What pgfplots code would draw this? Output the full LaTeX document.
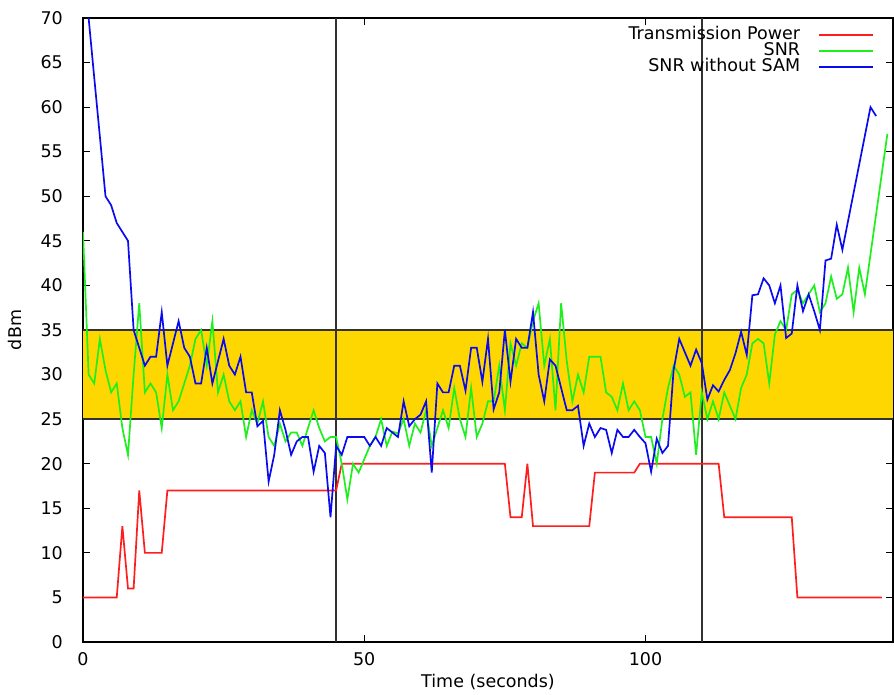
\documentclass[border=0pt]{standalone}
\usepackage{fontspec}
\setmainfont{DejaVu Sans}
\usepackage{pgfplots}
\pgfplotsset{compat=1.18}
\usetikzlibrary{calc}
\definecolor{band}{RGB}{255,215,0}
\definecolor{tpred}{RGB}{255,30,30}
\definecolor{snrgreen}{RGB}{30,240,30}
\definecolor{snrblue}{RGB}{10,10,240}
\definecolor{rulegray}{RGB}{50,50,50}
\pgfplotsset{my legend line/.style={legend image code/.code={\draw[#1] (0pt,0pt) -- (54pt,0pt);}}}

\begin{document}
\begin{tikzpicture}
\begin{axis}[
  scale only axis, width=810pt, height=624pt,
  xmin=0, xmax=144, ymin=0, ymax=70,
  xtick={0,50,100}, ytick={0,5,...,70},
  tick align=inside, major tick length=7pt,
  tick style={black, line width=1pt},
  axis line style={black, line width=2pt},
  /pgf/number format/assume math mode=true,
  tick label style={font=\fontsize{17.5}{20}\selectfont, inner sep=0pt},
  yticklabel style={xshift=-20pt},
  xticklabel style={yshift=-10pt},
  xlabel={Time (seconds)}, ylabel={dBm},
  label style={font=\fontsize{17.5}{20}\selectfont},
  xlabel style={at={(axis description cs:0.5,0)}, anchor=north, yshift=-32pt, inner sep=0pt},
  ylabel style={at={(axis description cs:-0.0838,0.5)}, anchor=center},
  legend style={at={(rel axis cs:1,1)}, anchor=north east, xshift=-16pt, yshift=-7pt,
    draw=none, fill=none, font=\fontsize{17.5}{20}\selectfont, row sep=0pt, column sep=18pt,
    nodes={inner sep=0pt, text height=12pt, text depth=4pt}},
  legend cell align=right, legend plot pos=right,
  my legend line,
]
\coordinate (sw) at (rel axis cs:0,0);
\coordinate (ne) at (rel axis cs:1,1);
% band
\addplot[draw=none, fill=band, forget plot] coordinates {(0,25) (144,25) (144,35) (0,35)} -- cycle;
\addplot[rulegray, line width=1.7pt, forget plot] coordinates {(0,25) (144,25)};
\addplot[rulegray, line width=1.7pt, forget plot] coordinates {(0,35) (144,35)};
\addplot[rulegray, line width=1.5pt, forget plot] coordinates {(45,0) (45,70)};
\addplot[rulegray, line width=1.5pt, forget plot] coordinates {(110,0) (110,70)};

% Transmission Power
\addplot[tpred, line width=1.7pt] table {
x y
0 5
1 5
2 5
3 5
4 5
5 5
6 5
7 13
8 6
9 6
10 17
11 10
12 10
13 10
14 10
15 17
45 17
46 20
75 20
76 14
77 14
78 14
79 20
80 13
90 13
91 19
98 19
99 20
113 20
114 14
126 14
127 5
142 5
};
\addlegendentry{Transmission Power}

% SNR
\addplot[snrgreen, line width=1.7pt] table {
x y
0 46
1 30
2 29
3 34
4 30.5
5 28
6 29
7 24
8 21
9 30
10 38
11 28
12 29
13 28
14 24
15 30
16 26
17 27
18 29
19 31
20 34
21 35
22 31
23 36
24 28
25 30
26 27
27 26
28 27
29 23
30 26
31 24.5
32 27
33 23
34 22
35 24.5
36 22.5
37 23.5
38 23.5
39 22
40 24
41 26
42 24
43 22.5
44 23
45 23
46 20
47 16
48 20
49 19
50 20.5
51 22
52 23
53 25
54 22
55 23.6
56 23.4
57 25
58 22
59 24.5
60 23.5
61 26
62 22
63 24
64 26
65 24
66 28.5
67 25
68 23
69 28.5
70 23
71 24.5
72 27
73 27
74 31
75 26
76 33.5
77 31
78 33.5
79 33
80 36
81 38
82 31
83 34
84 26
85 38
86 31.5
87 27
88 30
89 28
90 32
91 32
92 32
93 28
94 27.5
95 26
96 29
97 26
98 27
99 26
100 23
101 23
102 20
103 25
104 28.5
105 31
106 30
107 27.5
108 28
109 21
110 28
111 25
112 27
113 25
114 28
115 26.5
116 25
117 28.5
118 30
119 33.5
120 34
121 33.5
122 29
123 34.5
124 36
125 35
126 39
127 39.5
128 38
129 39
130 40
131 37
132 38
133 41
134 38.5
135 39
136 42
137 37
138 42
139 39
140 43.5
141 48
142 52.5
143 57
};
\addlegendentry{SNR}

% SNR without SAM
\addplot[snrblue, line width=1.7pt] table {
x y
1 70
2 63.3
3 56.7
4 50
5 49
6 47
7 46
8 45
9 35
10 33
11 31
12 32
13 32
14 37
15 31
16 33.5
17 36
18 33
19 32
20 29
21 29
22 33
23 29
24 31.5
25 34
26 31
27 30
28 32
29 28
30 28
31 24.2
32 24.8
33 18
34 21
35 26
36 23.8
37 21
38 22.5
39 23
40 23
41 19.1
42 22
43 21.2
44 14
45 22
46 21
47 23
48 23
49 23
50 23
51 22
52 23
53 22
54 24
55 23.5
56 23
57 27
58 24.2
59 25
60 25.5
61 27
62 19
63 29
64 28
65 28
66 31
67 31
68 28.2
69 33
70 33
71 29.2
72 34
73 26.1
74 28
75 35
76 29.2
77 34
78 33
79 33
80 37
81 30
82 27
83 31.7
84 31
85 28.5
86 26
87 26
88 26.5
89 22
90 24.5
91 23
92 24
93 23.8
94 21.2
95 23.8
96 23
97 23
98 23.8
99 23
100 22.3
101 19.1
102 22.8
103 21.2
104 22
105 30.5
106 34
107 32.5
108 31
109 32.8
110 31.3
111 27.2
112 28.8
113 28.1
114 29.4
115 30.5
116 32.4
117 34.8
118 32.2
119 38.9
120 39
121 40.8
122 40
123 38
124 40
125 34.1
126 34.6
127 40
128 37.1
129 39
130 37.1
131 35
132 42.8
133 43
134 46.8
135 44
136 47.2
137 50.4
138 53.6
139 56.8
140 60
141 59
};
\addlegendentry{SNR without SAM}
\end{axis}
\pgfresetboundingbox
\path[use as bounding box] ($(sw)+(-83pt,-53pt)$) rectangle ($(ne)+(1pt,18pt)$);
\end{tikzpicture}
\end{document}
